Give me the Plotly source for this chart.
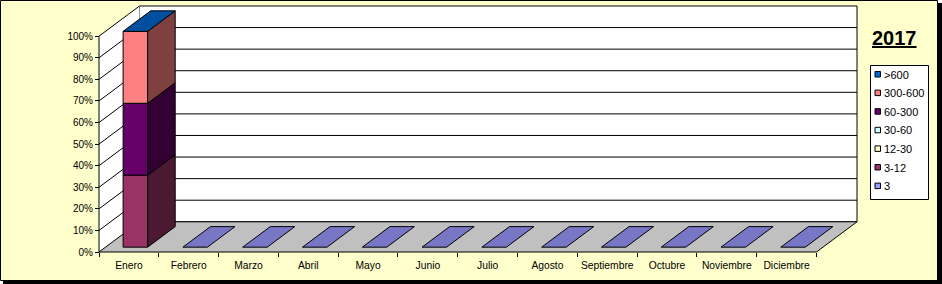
import plotly.graph_objects as go

# ---------------- data ----------------
MONTHS = ["Enero", "Febrero", "Marzo", "Abril", "Mayo", "Junio", "Julio",
          "Agosto", "Septiembre", "Octubre", "Noviembre", "Diciembre"]
SERIES = ["3", "3-12", "12-30", "30-60", "60-300", "300-600", ">600"]
COLORS = ["#9999FF", "#993366", "#FFFFCC", "#CCFFFF", "#660066", "#FF8080", "#0066CC"]

S_3       = [0, 0, 0, 0, 0, 0, 0, 0, 0, 0, 0, 0]
S_3_12    = [1, 0, 0, 0, 0, 0, 0, 0, 0, 0, 0, 0]
S_12_30   = [0, 0, 0, 0, 0, 0, 0, 0, 0, 0, 0, 0]
S_30_60   = [0, 0, 0, 0, 0, 0, 0, 0, 0, 0, 0, 0]
S_60_300  = [1, 0, 0, 0, 0, 0, 0, 0, 0, 0, 0, 0]
S_300_600 = [1, 0, 0, 0, 0, 0, 0, 0, 0, 0, 0, 0]
S_600     = [0, 0, 0, 0, 0, 0, 0, 0, 0, 0, 0, 0]
VALUES = [S_3, S_3_12, S_12_30, S_30_60, S_60_300, S_300_600, S_600]

Y_TICKS = [0, 10, 20, 30, 40, 50, 60, 70, 80, 90, 100]
Y_LABELS = [f"{v}%" for v in Y_TICKS]
TITLE = "2017"

# ---------------- geometry / style ----------------
W, H = 942, 284
DX, DY = 0.678, 14.0          # depth offset in axis units
F0, F1 = 0.16, 0.84           # bar depth span (fraction of depth)
BAR_W = 0.41
SX = 59.79                    # px per category
SY = 2.158                    # px per percent
X0PX, Y0PX = 99, 252          # pixel position of (0, 0)
ML, MR, MT, MB = 97, 83, 4, 30
PW, PH = W - ML - MR, H - MT - MB
BG = "#FFFFCC"
FONT = "Liberation Sans, Arial, sans-serif"


def shade(hx, f):
    hx = hx.lstrip("#")
    r, g, b = (int(hx[i:i + 2], 16) for i in (0, 2, 4))
    return "#%02x%02x%02x" % (int(r * f), int(g * f), int(b * f))


def px(x):
    return (x - ML) / PW


def py(y):
    return (H - MB - y) / PH


def poly(xs, ys, fill):
    return go.Scatter(x=xs + [xs[0]], y=ys + [ys[0]], mode="lines", fill="toself",
                      fillcolor=fill, line=dict(color="black", width=1),
                      hoverinfo="skip", showlegend=False)


n = len(MONTHS)
totals = [sum(s[i] for s in VALUES) for i in range(n)]
pct = [[(s[i] / totals[i] * 100 if totals[i] else 0) for i in range(n)] for s in VALUES]

fig = go.Figure()

# front faces (bars)
cum = [0.0] * n
for k, name in enumerate(SERIES):
    ys, bases = [], []
    for i in range(n):
        v = pct[k][i]
        ys.append(v if v > 0 else None)
        bases.append(cum[i] + F0 * DY)
    fig.add_trace(go.Bar(x=[i + 0.5 + F0 * DX for i in range(n)], y=ys, base=bases,
                         width=BAR_W, marker=dict(color=COLORS[k], line=dict(color="black", width=1)),
                         name=name, showlegend=False, hoverinfo="skip"))
    for i in range(n):
        cum[i] += pct[k][i]

# side faces and top faces
ddx, ddy = (F1 - F0) * DX, (F1 - F0) * DY
for i in range(n):
    xl = i + 0.5 - BAR_W / 2 + F0 * DX
    xr = xl + BAR_W
    c = 0.0
    for k in range(len(SERIES)):
        v = pct[k][i]
        if v > 0:
            b, t = c + F0 * DY, c + v + F0 * DY
            fig.add_trace(poly([xr, xr, xr + ddx, xr + ddx],
                               [b, t, t + ddy, b + ddy], shade(COLORS[k], 0.5)))
        c += v
    top_idx = len(SERIES) - 1 if totals[i] else 0
    T = c + F0 * DY
    fig.add_trace(poly([xl, xr, xr + ddx, xl + ddx], [T, T, T + ddy, T + ddy],
                       shade(COLORS[top_idx], 0.78)))

# y axis line
fig.add_trace(go.Scatter(x=[0, 0], y=[0, 100], mode="lines", line=dict(color="black", width=1),
                         hoverinfo="skip", showlegend=False))

shapes = []
# chart frame with shadow
shapes.append(dict(type="rect", xref="paper", yref="paper", x0=px(3), x1=px(942), y0=py(3), y1=py(284),
                   fillcolor="black", line=dict(width=0), layer="below"))
shapes.append(dict(type="rect", xref="paper", yref="paper", x0=px(0.5), x1=px(937.5), y0=py(0.5), y1=py(280.5),
                   fillcolor=BG, line=dict(color="black", width=1), layer="below"))

# walls and floor
def path(pts):
    return "M " + " L ".join(f"{a},{b}" for a, b in pts) + " Z"

shapes.append(dict(type="path", xref="x", yref="y", layer="below", fillcolor="white",
                   line=dict(color="black", width=1),
                   path=path([(DX, DY), (DX, 100 + DY), (n + DX, 100 + DY), (n + DX, DY)])))
shapes.append(dict(type="path", xref="x", yref="y", layer="below", fillcolor="white",
                   line=dict(width=0),
                   path=path([(0, 0), (0, 100), (DX, 100 + DY), (DX, DY)])))
shapes.append(dict(type="path", xref="x", yref="y", layer="below", fillcolor="#C0C0C0",
                   line=dict(color="black", width=1),
                   path=path([(0, 0), (n, 0), (n + DX, DY), (DX, DY)])))
for v in Y_TICKS[1:]:
    if v < 100:
        shapes.append(dict(type="line", xref="x", yref="y", layer="below", x0=DX, x1=n + DX,
                           y0=v + DY, y1=v + DY, line=dict(color="black", width=1)))
    shapes.append(dict(type="line", xref="x", yref="y", layer="below", x0=0, x1=DX,
                       y0=v, y1=v + DY, line=dict(color="black", width=1)))

# legend (manual, Excel-like compact)
LX0, LX1, LY0, LY1 = 870, 928, 65, 199
shapes.append(dict(type="rect", xref="paper", yref="paper", x0=px(LX0 + 0.5), x1=px(LX1 + 0.5),
                   y0=py(LY0 + 0.5), y1=py(LY1 + 0.5), fillcolor="white",
                   line=dict(color="black", width=1)))
annotations = []
order = list(range(len(SERIES)))[::-1]
for j, k in enumerate(order):
    cy = 74 + j * 18.6
    shapes.append(dict(type="rect", xref="paper", yref="paper", x0=px(875), x1=px(880.5),
                       y0=py(cy - 2.5), y1=py(cy + 3), fillcolor=COLORS[k],
                       line=dict(color="black", width=1)))
    annotations.append(dict(xref="paper", yref="paper", x=px(882), y=py(cy + 0.5), text=SERIES[k],
                            showarrow=False, xanchor="left", yanchor="middle",
                            font=dict(family=FONT, size=11, color="black")))

annotations.append(dict(xref="paper", yref="paper", x=px(895), y=py(38),
                        text=f"<b><u>{TITLE}</u></b>", showarrow=False,
                        xanchor="center", yanchor="middle",
                        font=dict(family=FONT, size=20, color="black")))

xr0 = -(X0PX - ML) / SX
yr0 = -(H - MB - Y0PX) / SY
fig.update_layout(
    width=W, height=H,
    margin=dict(l=ML, r=MR, t=MT, b=MB, pad=0),
    paper_bgcolor="white", plot_bgcolor="rgba(0,0,0,0)",
    barmode="overlay", showlegend=False,
    shapes=shapes, annotations=annotations,
    font=dict(family=FONT, color="black"),
    xaxis=dict(range=[xr0, xr0 + PW / SX], tickmode="array",
               tickvals=[i + 0.5 for i in range(n)], ticktext=MONTHS,
               ticks="outside", ticklen=4, tickcolor="rgba(0,0,0,0)",
               minor=dict(tickmode="array", tickvals=list(range(n + 1)), ticks="outside",
                          ticklen=4, tickcolor="black", tickwidth=1),
               showgrid=False, zeroline=False, showline=False,
               anchor="free", position=(H - MB - Y0PX) / PH * -1 + 0 if False else (Y0PX - (H - MB)) / -PH,
               tickfont=dict(family=FONT, size=10.3, color="black"), fixedrange=True),
    yaxis=dict(range=[yr0, yr0 + PH / SY], tickmode="array", tickvals=Y_TICKS, ticktext=Y_LABELS,
               ticks="outside", ticklen=4, tickcolor="black", tickwidth=1,
               showgrid=False, zeroline=False, showline=False,
               anchor="free", position=(X0PX - ML) / PW,
               tickfont=dict(family=FONT, size=10, color="black"), fixedrange=True),
)

fig.write_html("out.html")
